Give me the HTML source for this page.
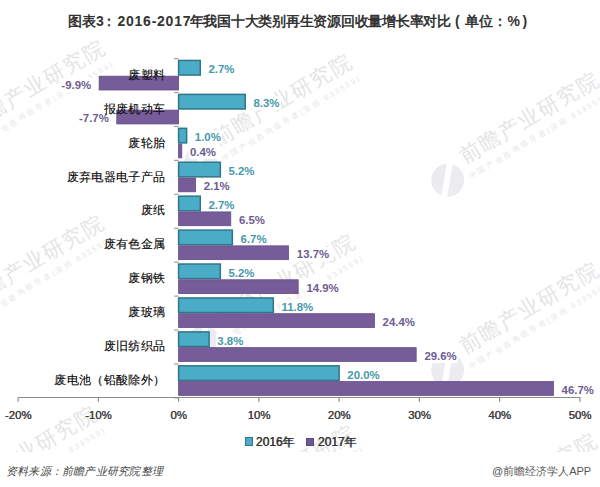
<!DOCTYPE html>
<html><head><meta charset="utf-8">
<style>
html,body{margin:0;padding:0;background:#fff;}
body{width:600px;height:487px;position:relative;overflow:hidden;font-family:"Liberation Sans",sans-serif;}
.title{position:absolute;top:13px;font-size:14px;font-weight:bold;color:#333;white-space:nowrap;}
.vl{position:absolute;font-size:11.4px;line-height:14px;font-weight:bold;white-space:nowrap;background:#fff;padding:0 1.5px;}
.cl{position:absolute;font-size:12.3px;line-height:16px;font-weight:500;letter-spacing:0.35px;color:#111;text-shadow:0.3px 0 0 rgba(0,0,0,0.45);white-space:nowrap;}
.xl{position:absolute;width:60px;text-align:center;font-size:11.4px;line-height:14px;text-shadow:0.4px 0 0 #404040;color:#404040;}
.leg{position:absolute;font-size:12px;line-height:14px;font-weight:500;text-shadow:0.45px 0 0 #333;color:#333;white-space:nowrap;}
.sq{position:absolute;width:7px;height:7px;}
.foot{position:absolute;font-size:11px;line-height:14px;color:#444;white-space:nowrap;}
svg{position:absolute;left:0;top:0;}
.wm{position:absolute;width:0;height:0;transform:rotate(-30.5deg);transform-origin:0 0;}
.wm .logo{position:absolute;left:-16.5px;top:-16.5px;width:33px;height:33px;border-radius:50%;background:#ececf0;}
.wm .logo:after{content:"";position:absolute;left:13px;top:-4px;width:6px;height:40px;background:#fff;transform:rotate(40deg);}
.wm .wt{position:absolute;left:23.5px;top:-23px;font-size:21px;line-height:21px;font-weight:500;letter-spacing:1.6px;color:#e4e4e4;white-space:nowrap;}
.wm .ws{position:absolute;left:21px;top:4.8px;font-size:7.5px;line-height:8px;letter-spacing:2px;color:#e6e6e6;white-space:nowrap;}
</style></head><body>
<div class="wm" style="left:-46.9px;top:148.0px">
<div class="logo"></div><div class="wt">前瞻产业研究院</div><div class="ws">中国产业咨询领导者(深圳 833559)</div></div>
<div class="wm" style="left:200.1px;top:162.0px">
<div class="logo"></div><div class="wt">前瞻产业研究院</div><div class="ws">中国产业咨询领导者(深圳 833559)</div></div>
<div class="wm" style="left:447.1px;top:180.0px">
<div class="logo"></div><div class="wt">前瞻产业研究院</div><div class="ws">中国产业咨询领导者(深圳 833559)</div></div>
<div class="wm" style="left:-47.9px;top:323.0px">
<div class="logo"></div><div class="wt">前瞻产业研究院</div><div class="ws">中国产业咨询领导者(深圳 833559)</div></div>
<div class="wm" style="left:203.1px;top:342.0px">
<div class="logo"></div><div class="wt">前瞻产业研究院</div><div class="ws">中国产业咨询领导者(深圳 833559)</div></div>
<div class="wm" style="left:447.1px;top:370.0px">
<div class="logo"></div><div class="wt">前瞻产业研究院</div><div class="ws">中国产业咨询领导者(深圳 833559)</div></div>
<div class="wm" style="left:-54.9px;top:514.0px">
<div class="logo"></div><div class="wt">前瞻产业研究院</div><div class="ws">中国产业咨询领导者(深圳 833559)</div></div>
<div class="wm" style="left:203.1px;top:533.0px">
<div class="logo"></div><div class="wt">前瞻产业研究院</div><div class="ws">中国产业咨询领导者(深圳 833559)</div></div>
<div class="wm" style="left:445.1px;top:541.0px">
<div class="logo"></div><div class="wt">前瞻产业研究院</div><div class="ws">中国产业咨询领导者(深圳 833559)</div></div>
<div style="position:absolute;left:0;top:452px;width:600px;height:35px;background:#fff"></div>
<div class="title" style="left:68px">图表3</div>
<div class="title" style="left:102.3px">：</div>
<div class="title" style="left:117.5px;letter-spacing:0.75px">2016-2017</div>
<div class="title" style="left:189.5px;letter-spacing:-0.25px">年我国十大类别再生资源回收量增长率对比</div>
<div class="title" style="left:455px">(</div>
<div class="title" style="left:464.5px">单位：</div>
<div class="title" style="left:507.5px">%</div>
<div class="title" style="left:522.5px">)</div>
<div class="vl" style="left:207.0px;top:62.1px;color:#4799ab">2.7%</div>
<div class="vl" style="right:507.4px;top:77.5px;color:#6c5c92">-9.9%</div>
<div class="vl" style="left:251.9px;top:96.1px;color:#4799ab">8.3%</div>
<div class="vl" style="right:489.7px;top:111.4px;color:#6c5c92">-7.7%</div>
<div class="vl" style="left:193.3px;top:130.0px;color:#4799ab">1.0%</div>
<div class="vl" style="left:188.5px;top:145.4px;color:#6c5c92">0.4%</div>
<div class="vl" style="left:227.0px;top:163.9px;color:#4799ab">5.2%</div>
<div class="vl" style="left:202.2px;top:179.3px;color:#6c5c92">2.1%</div>
<div class="vl" style="left:207.0px;top:197.9px;color:#4799ab">2.7%</div>
<div class="vl" style="left:237.5px;top:213.2px;color:#6c5c92">6.5%</div>
<div class="vl" style="left:239.1px;top:231.8px;color:#4799ab">6.7%</div>
<div class="vl" style="left:295.3px;top:247.2px;color:#6c5c92">13.7%</div>
<div class="vl" style="left:227.0px;top:265.7px;color:#4799ab">5.2%</div>
<div class="vl" style="left:304.9px;top:281.1px;color:#6c5c92">14.9%</div>
<div class="vl" style="left:280.0px;top:299.7px;color:#4799ab">11.8%</div>
<div class="vl" style="left:381.1px;top:315.0px;color:#6c5c92">24.4%</div>
<div class="vl" style="left:215.8px;top:333.6px;color:#4799ab">3.8%</div>
<div class="vl" style="left:422.9px;top:348.9px;color:#6c5c92">29.6%</div>
<div class="vl" style="left:345.8px;top:367.5px;color:#4799ab">20.0%</div>
<div class="vl" style="left:560.1px;top:382.9px;color:#6c5c92">46.7%</div>
<svg width="600" height="487" viewBox="0 0 600 487">
<rect x="178.60" y="60.45" width="21.67" height="14.60" fill="#4aacc6" stroke="#2f7788" stroke-width="1.5"/>
<rect x="99.14" y="76.20" width="79.46" height="13.80" fill="#775c9a" stroke="#644c86" stroke-width="0.8"/>
<rect x="178.60" y="94.38" width="66.62" height="14.60" fill="#4aacc6" stroke="#2f7788" stroke-width="1.5"/>
<rect x="116.80" y="110.13" width="61.80" height="13.80" fill="#775c9a" stroke="#644c86" stroke-width="0.8"/>
<rect x="178.60" y="128.31" width="8.03" height="14.60" fill="#4aacc6" stroke="#2f7788" stroke-width="1.5"/>
<rect x="178.60" y="144.06" width="3.21" height="13.80" fill="#775c9a" stroke="#644c86" stroke-width="0.8"/>
<rect x="178.60" y="162.24" width="41.74" height="14.60" fill="#4aacc6" stroke="#2f7788" stroke-width="1.5"/>
<rect x="178.60" y="177.99" width="16.85" height="13.80" fill="#775c9a" stroke="#644c86" stroke-width="0.8"/>
<rect x="178.60" y="196.17" width="21.67" height="14.60" fill="#4aacc6" stroke="#2f7788" stroke-width="1.5"/>
<rect x="178.60" y="211.92" width="52.17" height="13.80" fill="#775c9a" stroke="#644c86" stroke-width="0.8"/>
<rect x="178.60" y="230.10" width="53.77" height="14.60" fill="#4aacc6" stroke="#2f7788" stroke-width="1.5"/>
<rect x="178.60" y="245.85" width="109.96" height="13.80" fill="#775c9a" stroke="#644c86" stroke-width="0.8"/>
<rect x="178.60" y="264.03" width="41.74" height="14.60" fill="#4aacc6" stroke="#2f7788" stroke-width="1.5"/>
<rect x="178.60" y="279.78" width="119.59" height="13.80" fill="#775c9a" stroke="#644c86" stroke-width="0.8"/>
<rect x="178.60" y="297.96" width="94.71" height="14.60" fill="#4aacc6" stroke="#2f7788" stroke-width="1.5"/>
<rect x="178.60" y="313.71" width="195.83" height="13.80" fill="#775c9a" stroke="#644c86" stroke-width="0.8"/>
<rect x="178.60" y="331.89" width="30.50" height="14.60" fill="#4aacc6" stroke="#2f7788" stroke-width="1.5"/>
<rect x="178.60" y="347.64" width="237.57" height="13.80" fill="#775c9a" stroke="#644c86" stroke-width="0.8"/>
<rect x="178.60" y="365.82" width="160.52" height="14.60" fill="#4aacc6" stroke="#2f7788" stroke-width="1.5"/>
<rect x="178.60" y="381.57" width="374.81" height="13.80" fill="#775c9a" stroke="#644c86" stroke-width="0.8"/>
<line x1="174.1" y1="58.60" x2="178.6" y2="58.60" stroke="#a0a098" stroke-width="1.2"/>
<line x1="174.1" y1="92.53" x2="178.6" y2="92.53" stroke="#a0a098" stroke-width="1.2"/>
<line x1="174.1" y1="126.46" x2="178.6" y2="126.46" stroke="#a0a098" stroke-width="1.2"/>
<line x1="174.1" y1="160.39" x2="178.6" y2="160.39" stroke="#a0a098" stroke-width="1.2"/>
<line x1="174.1" y1="194.32" x2="178.6" y2="194.32" stroke="#a0a098" stroke-width="1.2"/>
<line x1="174.1" y1="228.25" x2="178.6" y2="228.25" stroke="#a0a098" stroke-width="1.2"/>
<line x1="174.1" y1="262.18" x2="178.6" y2="262.18" stroke="#a0a098" stroke-width="1.2"/>
<line x1="174.1" y1="296.11" x2="178.6" y2="296.11" stroke="#a0a098" stroke-width="1.2"/>
<line x1="174.1" y1="330.04" x2="178.6" y2="330.04" stroke="#a0a098" stroke-width="1.2"/>
<line x1="174.1" y1="363.97" x2="178.6" y2="363.97" stroke="#a0a098" stroke-width="1.2"/>
<line x1="174.1" y1="397.90" x2="178.6" y2="397.90" stroke="#a0a098" stroke-width="1.2"/>
<line x1="18.099999999999994" y1="397.5" x2="580.4" y2="397.5" stroke="#8c8c8c" stroke-width="1.2"/>
<line x1="18.08" y1="397.5" x2="18.08" y2="401.8" stroke="#8c8c8c" stroke-width="1.2"/>
<line x1="98.34" y1="397.5" x2="98.34" y2="401.8" stroke="#8c8c8c" stroke-width="1.2"/>
<line x1="178.60" y1="397.5" x2="178.60" y2="401.8" stroke="#8c8c8c" stroke-width="1.2"/>
<line x1="258.86" y1="397.5" x2="258.86" y2="401.8" stroke="#8c8c8c" stroke-width="1.2"/>
<line x1="339.12" y1="397.5" x2="339.12" y2="401.8" stroke="#8c8c8c" stroke-width="1.2"/>
<line x1="419.38" y1="397.5" x2="419.38" y2="401.8" stroke="#8c8c8c" stroke-width="1.2"/>
<line x1="499.64" y1="397.5" x2="499.64" y2="401.8" stroke="#8c8c8c" stroke-width="1.2"/>
<line x1="579.90" y1="397.5" x2="579.90" y2="401.8" stroke="#8c8c8c" stroke-width="1.2"/>
</svg>
<div class="cl" style="right:434.6px;top:66.7px">废塑料</div>
<div class="cl" style="right:434.6px;top:100.6px">报废机动车</div>
<div class="cl" style="right:434.6px;top:134.5px">废轮胎</div>
<div class="cl" style="right:434.6px;top:168.5px">废弃电器电子产品</div>
<div class="cl" style="right:434.6px;top:202.4px">废纸</div>
<div class="cl" style="right:434.6px;top:236.3px">废有色金属</div>
<div class="cl" style="right:434.6px;top:270.2px">废钢铁</div>
<div class="cl" style="right:434.6px;top:304.2px">废玻璃</div>
<div class="cl" style="right:434.6px;top:338.1px">废旧纺织品</div>
<div class="cl" style="right:434.6px;top:372.0px">废电池（铅酸除外）</div>
<div class="xl" style="left:-11.9px;top:407.5px">-20%</div>
<div class="xl" style="left:68.3px;top:407.5px">-10%</div>
<div class="xl" style="left:148.6px;top:407.5px">0%</div>
<div class="xl" style="left:228.9px;top:407.5px">10%</div>
<div class="xl" style="left:309.1px;top:407.5px">20%</div>
<div class="xl" style="left:389.4px;top:407.5px">30%</div>
<div class="xl" style="left:469.6px;top:407.5px">40%</div>
<div class="xl" style="left:549.9px;top:407.5px">50%</div>
<div class="sq" style="left:245px;top:437px;background:#4aacc6;border:1.5px solid #2f7788;width:6px;height:6.5px"></div>
<div class="leg" style="left:255.8px;top:435px">2016年</div>
<div class="sq" style="left:306px;top:437.5px;background:#6e5594;border:1px solid #5c4882;width:6px;height:6px"></div>
<div class="leg" style="left:317.8px;top:435px">2017年</div>
<div class="foot" style="left:6px;top:464px;font-style:italic;letter-spacing:0.21px">资料来源：前瞻产业研究院整理</div>
<div class="foot" style="left:492px;top:464px;color:#555">@前瞻经济学人APP</div>
</body></html>
